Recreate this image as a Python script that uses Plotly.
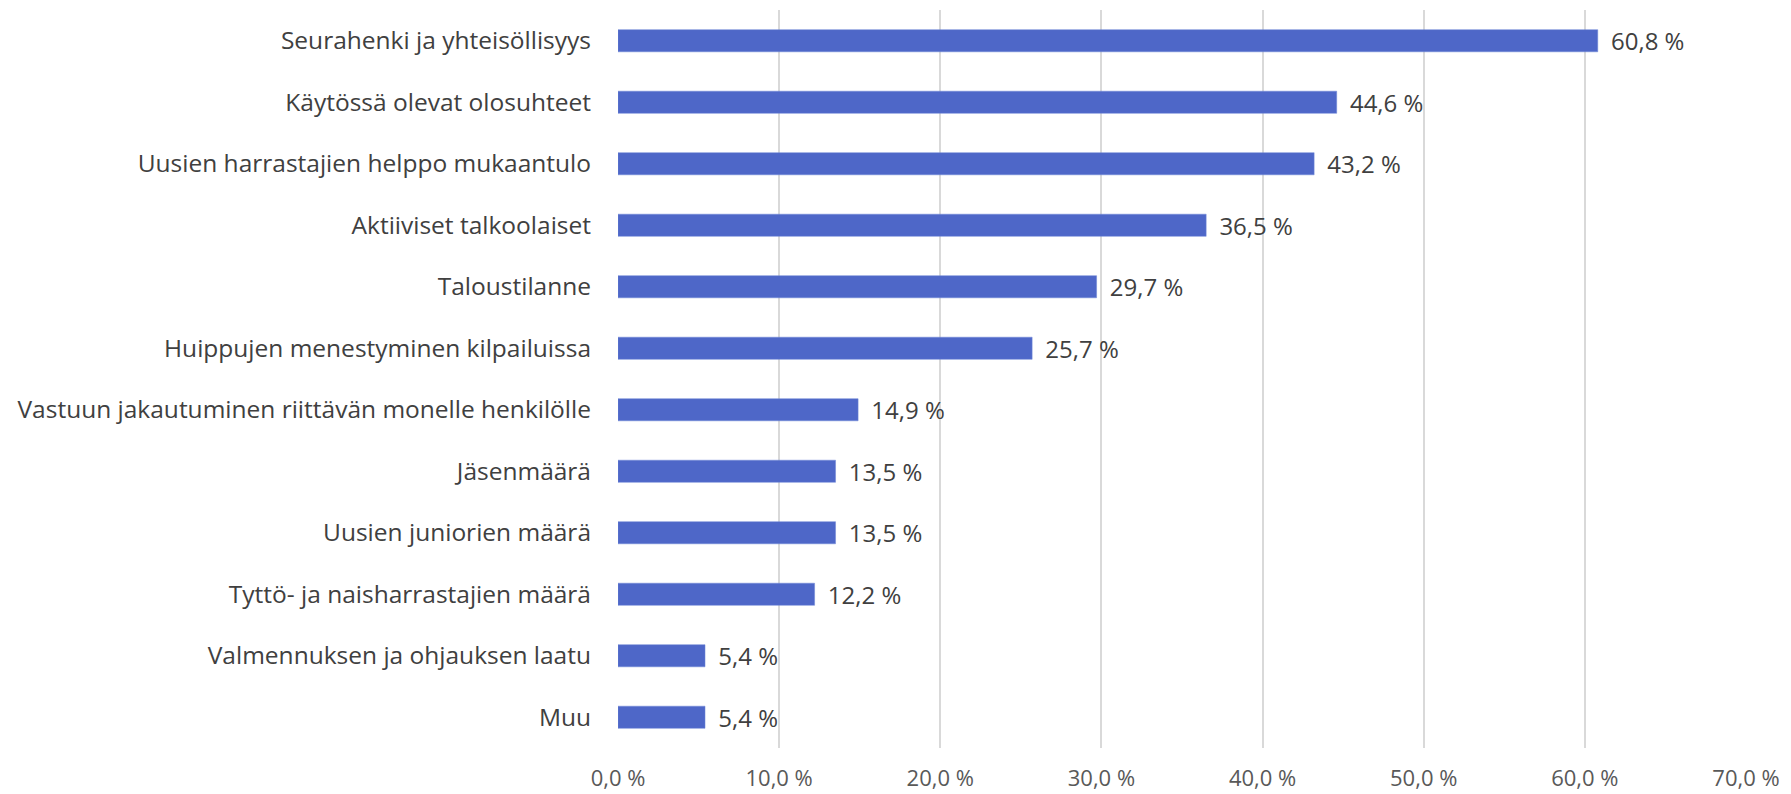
import plotly.graph_objects as go

categories = [
    "Seurahenki ja yhteisöllisyys",
    "Käytössä olevat olosuhteet",
    "Uusien harrastajien helppo mukaantulo",
    "Aktiiviset talkoolaiset",
    "Taloustilanne",
    "Huippujen menestyminen kilpailuissa",
    "Vastuun jakautuminen riittävän monelle henkilölle",
    "Jäsenmäärä",
    "Uusien juniorien määrä",
    "Tyttö- ja naisharrastajien määrä",
    "Valmennuksen ja ohjauksen laatu",
    "Muu",
]
values = [60.8, 44.6, 43.2, 36.5, 29.7, 25.7, 14.9, 13.5, 13.5, 12.2, 5.4, 5.4]

labels = ["\u00a0\u2009" + f"{v:.1f}".replace(".", ",") + " %" for v in values]

fig = go.Figure(
    go.Bar(
        x=values,
        y=categories,
        orientation="h",
        marker=dict(color="#4E67C8", line=dict(color="#6F86D6", width=0.5)),
        width=0.36,
        text=labels,
        textposition="outside",
        constraintext="none",
        textfont=dict(size=24, color="#404040", family="Open Sans"),
        cliponaxis=False,
    )
)

# page body adds an 8px offset, margins compensate for it
fig.update_layout(
    width=1791,
    height=794,
    paper_bgcolor="white",
    plot_bgcolor="white",
    separators=", ",
    margin=dict(l=610, r=53, t=2, b=54),
    font=dict(family="Open Sans", color="#595959"),
    showlegend=False,
)
fig.update_xaxes(
    range=[0, 70],
    dtick=10,
    tickformat=".1f",
    ticksuffix=" %",
    showgrid=True,
    gridcolor="#D9D9D9",
    gridwidth=1.5,
    zeroline=False,
    showline=False,
    tickfont=dict(size=22, color="#595959"),
    ticks="",
    ticklabelstandoff=15,
    automargin=False,
)
fig.update_yaxes(
    autorange="reversed",
    tickfont=dict(size=24.5, color="#404040"),
    ticks="",
    ticklabelstandoff=26,
    showgrid=False,
    automargin=False,
)

fig.write_html("out.html")
